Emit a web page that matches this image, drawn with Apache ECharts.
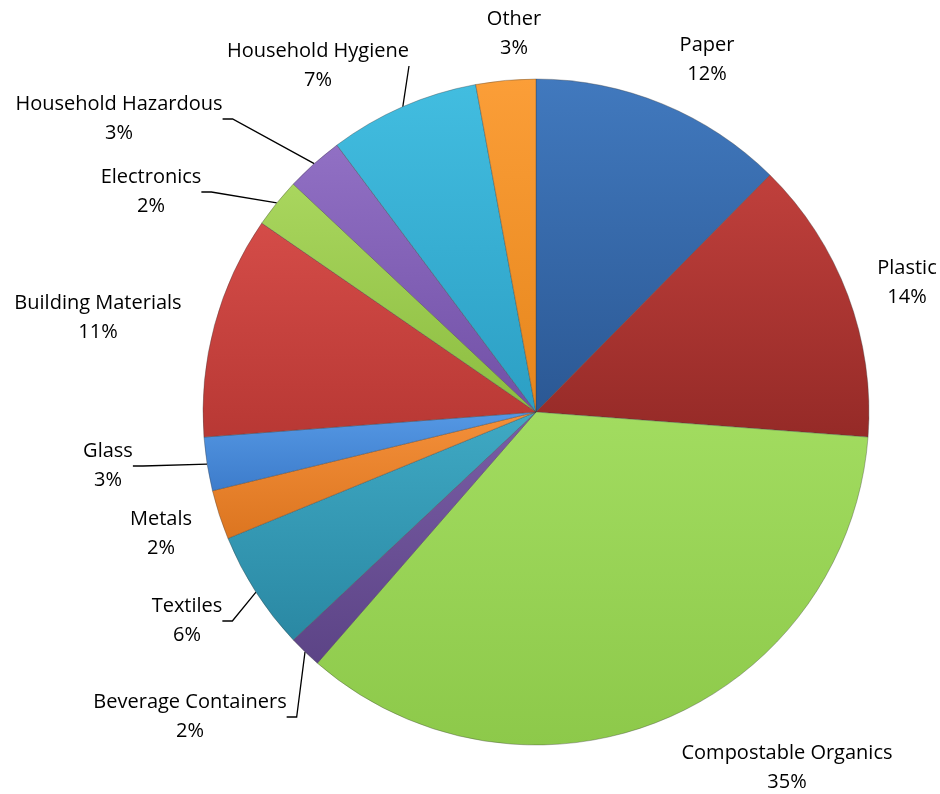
<!DOCTYPE html>
<html>
<head>
<meta charset="utf-8">
<script src="https://cdn.jsdelivr.net/npm/echarts@6/dist/echarts.min.js"></script>
<style>html,body{margin:0;padding:0;background:#fff}#c{width:940px;height:794px}</style>
</head>
<body>
<div id="c"></div>
<script>
// ---- data ----
var categories = ['Paper','Plastic','Compostable Organics','Beverage Containers','Textiles','Metals','Glass','Building Materials','Electronics','Household Hazardous','Household Hygiene','Other'];
var values = [12.4, 13.8, 35.2, 1.6, 5.8, 2.4, 2.6, 10.8, 2.4, 2.8, 7.3, 2.9];

// ---- styling (not data) ----
var topColors    = ['#4179be','#c0403c','#a2dc60','#7a5da6','#3fa9c4','#f4903a','#5598e4','#d44c48','#a9d65e','#9170c4','#42bde0','#fb9e38'];
var bottomColors = ['#2b5894','#952a27','#8dc94a','#5c4486','#2a88a3','#dc7520','#3d7ccb','#b83834','#8cbd40','#7150a6','#2c9fc4','#e6861c'];
var showLeader   = [false,false,false,true,true,false,true,false,true,true,true,false];
var labelPos = [[707,60],[907,283],[787,768],[190,717],[187,621],[161,534],[108,466],[98,318],[151,192],[119,119],[318,66],[514,34]];

var chart = echarts.init(document.getElementById('c'));
var seriesData = categories.map(function (name, i) {
  return {
    name: name,
    value: values[i],
    itemStyle: {
      color: new echarts.graphic.LinearGradient(0, 0, 0, 1, [
        {offset: 0, color: topColors[i]},
        {offset: 1, color: bottomColors[i]}
      ])
    },
    labelLine: {show: showLeader[i]}
  };
});

chart.setOption({
  animation: false,
  series: [{
    type: 'pie',
    center: [536, 412],
    radius: [0, 333],
    startAngle: 90,
    clockwise: true,
    avoidLabelOverlap: false,
    itemStyle: {borderColor: 'rgba(60,60,60,0.35)', borderWidth: 1},
    label: {
      show: true,
      position: 'outside',
      formatter: function (p) { return p.name + '\n' + Math.round(p.percent) + '%'; },
      fontFamily: '"Open Sans", Lato, sans-serif',
      fontSize: 20,
      lineHeight: 29,
      color: '#000',
      align: 'center'
    },
    labelLine: {show: true, length: 10, length2: 10, lineStyle: {color: '#000', width: 1.3}},
    labelLayout: function (params) {
      var p = labelPos[params.dataIndex];
      return {x: p[0], y: p[1], align: 'center', verticalAlign: 'middle'};
    },
    data: seriesData
  }]
});
</script>
</body>
</html>
